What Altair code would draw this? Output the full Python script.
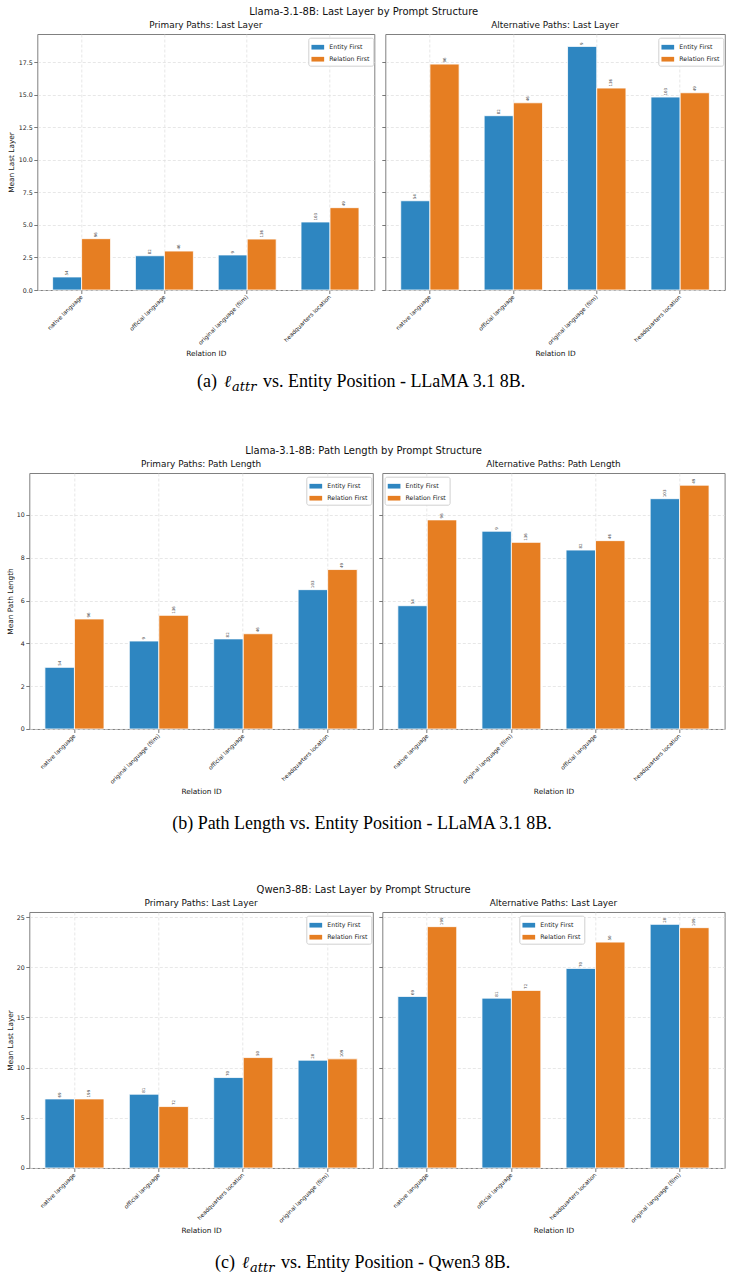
import altair as alt
import pandas as pd

SERIES = ["Entity First", "Relation First"]
COLORS = ["#2e86c1", "#e67e22"]
FONT = "DejaVu Sans"
SERIF = "Liberation Serif"
MATH = "DejaVu Serif"
SYMBOL = "M-1,-0.37H1V0.37H-1Z"

# ---------------- (a) Llama-3.1-8B: Last Layer ----------------
a_cats = ["native language", "official language", "original language (film)", "headquarters location"]
a_prim_ef = [1.00, 2.63, 2.69, 5.22]
a_prim_rf = [3.94, 2.99, 3.91, 6.32]
a_alt_ef = [6.85, 13.38, 18.70, 14.81]
a_alt_rf = [17.34, 14.37, 15.50, 15.14]
a_n_ef = ["54", "82", "9", "103"]
a_n_rf = ["96", "46", "136", "49"]
a_ticks = [0, 2.5, 5, 7.5, 10, 12.5, 15, 17.5]

# ---------------- (b) Llama-3.1-8B: Path Length ----------------
b_cats = ["native language", "original language (film)", "official language", "headquarters location"]
b_prim_ef = [2.88, 4.11, 4.21, 6.51]
b_prim_rf = [5.14, 5.31, 4.45, 7.45]
b_alt_ef = [5.76, 9.24, 8.36, 10.76]
b_alt_rf = [9.77, 8.72, 8.80, 11.39]
b_n_ef = ["54", "9", "82", "103"]
b_n_rf = ["96", "136", "46", "49"]
b_ticks = [0, 2, 4, 6, 8, 10]

# ---------------- (c) Qwen3-8B: Last Layer ----------------
c_cats = ["native language", "official language", "headquarters location", "original language (film)"]
c_prim_ef = [6.88, 7.35, 9.01, 10.74]
c_prim_rf = [6.88, 6.12, 11.00, 10.87]
c_alt_ef = [17.09, 16.92, 19.88, 24.27]
c_alt_rf = [24.04, 17.69, 22.50, 23.94]
c_n_ef = ["69", "81", "70", "20"]
c_n_rf = ["199", "72", "50", "109"]
c_ticks = [0, 5, 10, 15, 20, 25]


def panel(cats, ef, rf, n_ef, n_rf, title, width, ymax, ticks, yfmt,
          ytitle, is_left, y_extent, lx, ly):
    df = pd.DataFrame({
        "Relation": list(cats) * 2,
        "Series": [SERIES[0]] * len(cats) + [SERIES[1]] * len(cats),
        "Value": list(ef) + list(rf),
        "N": list(n_ef) + list(n_rf),
    })
    x = alt.X("Relation:N", sort=list(cats), title="Relation ID",
              scale=alt.Scale(paddingInner=0.3, paddingOuter=0.185),
              axis=alt.Axis(labelAngle=315, labelAlign="right", labelBaseline="middle",
                            labelFontSize=5.8, bandPosition=0.5, grid=True,
                            minExtent=58, maxExtent=58, titlePadding=1,
                            labelPadding=2, labelLimit=200))
    if is_left:
        yaxis = alt.Axis(values=ticks, format=yfmt, labelFontSize=6.3, labelPadding=1.5,
                         minExtent=y_extent, maxExtent=y_extent, titlePadding=2, grid=True)
        y = alt.Y("Value:Q", title=ytitle,
                  scale=alt.Scale(domain=[0, ymax], nice=False, zero=True), axis=yaxis)
    else:
        yaxis = alt.Axis(values=ticks, labels=False, grid=True, minExtent=3.5, maxExtent=3.5)
        y = alt.Y("Value:Q", title=None,
                  scale=alt.Scale(domain=[0, ymax], nice=False, zero=True), axis=yaxis)
    xo = alt.XOffset("Series:N", sort=SERIES, scale=alt.Scale(paddingInner=0, paddingOuter=0))
    legend = alt.Legend(title=None, orient="none", legendX=lx, legendY=ly,
                        symbolType=SYMBOL, symbolSize=161, symbolStrokeWidth=0,
                        labelFontSize=6.2, labelFont=FONT, labelColor="#222",
                        fillColor="white", strokeColor="#d0d0d0", padding=3,
                        cornerRadius=2, rowPadding=2, labelOffset=5)
    bars = alt.Chart(df).mark_bar(stroke="white", strokeWidth=0.8).encode(
        x=x, xOffset=xo, y=y,
        color=alt.Color("Series:N", sort=SERIES,
                        scale=alt.Scale(domain=SERIES, range=COLORS), legend=legend),
    )
    labels = alt.Chart(df).mark_text(angle=270, align="left", baseline="middle", dx=1.5,
                                     fontSize=4, font=FONT, color="#444").encode(
        x=x, xOffset=xo, y=y, text="N:N",
    )
    return alt.layer(bars, labels).properties(
        width=width, height=256,
        title=alt.Title(title, fontSize=8.9, offset=4, frame="group", font=FONT,
                        fontWeight="normal", color="#111"),
    )


def spacer(w):
    d = pd.DataFrame({"v": [0]})
    return alt.Chart(d).mark_point(opacity=0).encode(
        x=alt.value(0), y=alt.value(0)
    ).properties(width=w, height=2, view=alt.ViewBackground(stroke="transparent"))


def figure(left, right, suptitle, spacing, lead):
    return alt.hconcat(spacer(lead), left, right, spacing=spacing).resolve_scale(
        x="independent", y="independent", xOffset="independent"
    ).resolve_legend(color="independent").properties(
        title=alt.Title(suptitle, fontSize=10, offset=4, anchor="middle", font=FONT,
                        fontWeight="normal", color="#111", dx=4)
    )


def caption(parts, height):
    layers = []
    for text, xpos, ypos, size, style, font, align in parts:
        d = pd.DataFrame({"t": [text]})
        layers.append(alt.Chart(d).mark_text(
            align=align, baseline="alphabetic", font=font, fontSize=size,
            fontStyle=style, color="#000", x=xpos, y=ypos).encode(text="t:N"))
    return alt.layer(*layers).properties(
        width=700, height=height, view=alt.ViewBackground(stroke="transparent"))


fig_a = figure(
    panel(a_cats, a_prim_ef, a_prim_rf, a_n_ef, a_n_rf, "Primary Paths: Last Layer",
          337, 19.65, a_ticks, ".1f", "Mean Last Layer", True, 20, 271, 3.7),
    panel(a_cats, a_alt_ef, a_alt_rf, a_n_ef, a_n_rf, "Alternative Paths: Last Layer",
          339.5, 19.65, a_ticks, ".1f", "", False, 0, 273, 3.7),
    "Llama-3.1-8B: Last Layer by Prompt Structure", 5, 1)

fig_b = figure(
    panel(b_cats, b_prim_ef, b_prim_rf, b_n_ef, b_n_rf, "Primary Paths: Path Length",
          343.5, 11.96, b_ticks, "d", "Mean Path Length", True, 13, 277, 3.7),
    panel(b_cats, b_alt_ef, b_alt_rf, b_n_ef, b_n_rf, "Alternative Paths: Path Length",
          342.3, 11.96, b_ticks, "d", "", False, 0, 2.3, 3.7),
    "Llama-3.1-8B: Path Length by Prompt Structure", 4, 2)

fig_c = figure(
    panel(c_cats, c_prim_ef, c_prim_rf, c_n_ef, c_n_rf, "Primary Paths: Last Layer",
          343.5, 25.5, c_ticks, "d", "Mean Last Layer", True, 13, 277, 3.7),
    panel(c_cats, c_alt_ef, c_alt_rf, c_n_ef, c_n_rf, "Alternative Paths: Last Layer",
          342.3, 25.5, c_ticks, "d", "", False, 0, 137, 3.7),
    "Qwen3-8B: Last Layer by Prompt Structure", 4, 2)

# caption x positions are relative to the block origin (page x 0.3)
X0 = -0.3
CY = 29.2
CY2 = 32.2
cap_a = caption([
    ("(a)", 200 + X0, CY, 18, "normal", SERIF, "left"),
    ("\u2113", 227 + X0, CY, 17, "italic", MATH, "left"),
    ("attr", 235 + X0, CY + 4, 13, "italic", MATH, "left"),
    ("vs. Entity Position - LLaMA 3.1 8B.", 266 + X0, CY, 18, "normal", SERIF, "left"),
], 86.5)
cap_b = caption([
    ("(b) Path Length vs. Entity Position - LLaMA 3.1 8B.", 365 + X0, CY2, 18,
     "normal", SERIF, "center"),
], 86.5)
cap_c = caption([
    ("(c)", 218 + X0, CY2, 18, "normal", SERIF, "left"),
    ("\u2113", 245 + X0, CY2, 17, "italic", MATH, "left"),
    ("attr", 253 + X0, CY2 + 4, 13, "italic", MATH, "left"),
    ("vs. Entity Position - Qwen3 8B.", 284 + X0, CY2, 18, "normal", SERIF, "left"),
], 38)

block_a = alt.concat(fig_a, cap_a, columns=1, spacing=0, align="none")
block_b = alt.concat(fig_b, cap_b, columns=1, spacing=0, align="none")
block_c = alt.concat(fig_c, cap_c, columns=1, spacing=0, align="none")

chart = alt.concat(block_a, block_b, block_c, columns=1, spacing=0, align="none").resolve_scale(
    x="independent", y="independent", xOffset="independent"
).resolve_legend(color="independent").properties(
    padding={"left": -6.7, "top": 6, "right": 2, "bottom": 0},
    background="white",
).configure_view(
    stroke="#808080", strokeWidth=1
).configure_axis(
    domain=False, gridDash=[3, 2], gridColor="#dcdcdc", gridWidth=0.7,
    tickColor="#555", tickSize=3.5, tickWidth=0.8, labelColor="#222",
    labelFont=FONT, titleFont=FONT, titleFontWeight="normal", titleFontSize=7.4,
    titleColor="#111",
).configure_title(font=FONT)

chart.save("out.html", embed_options={"renderer": "svg", "actions": False})
